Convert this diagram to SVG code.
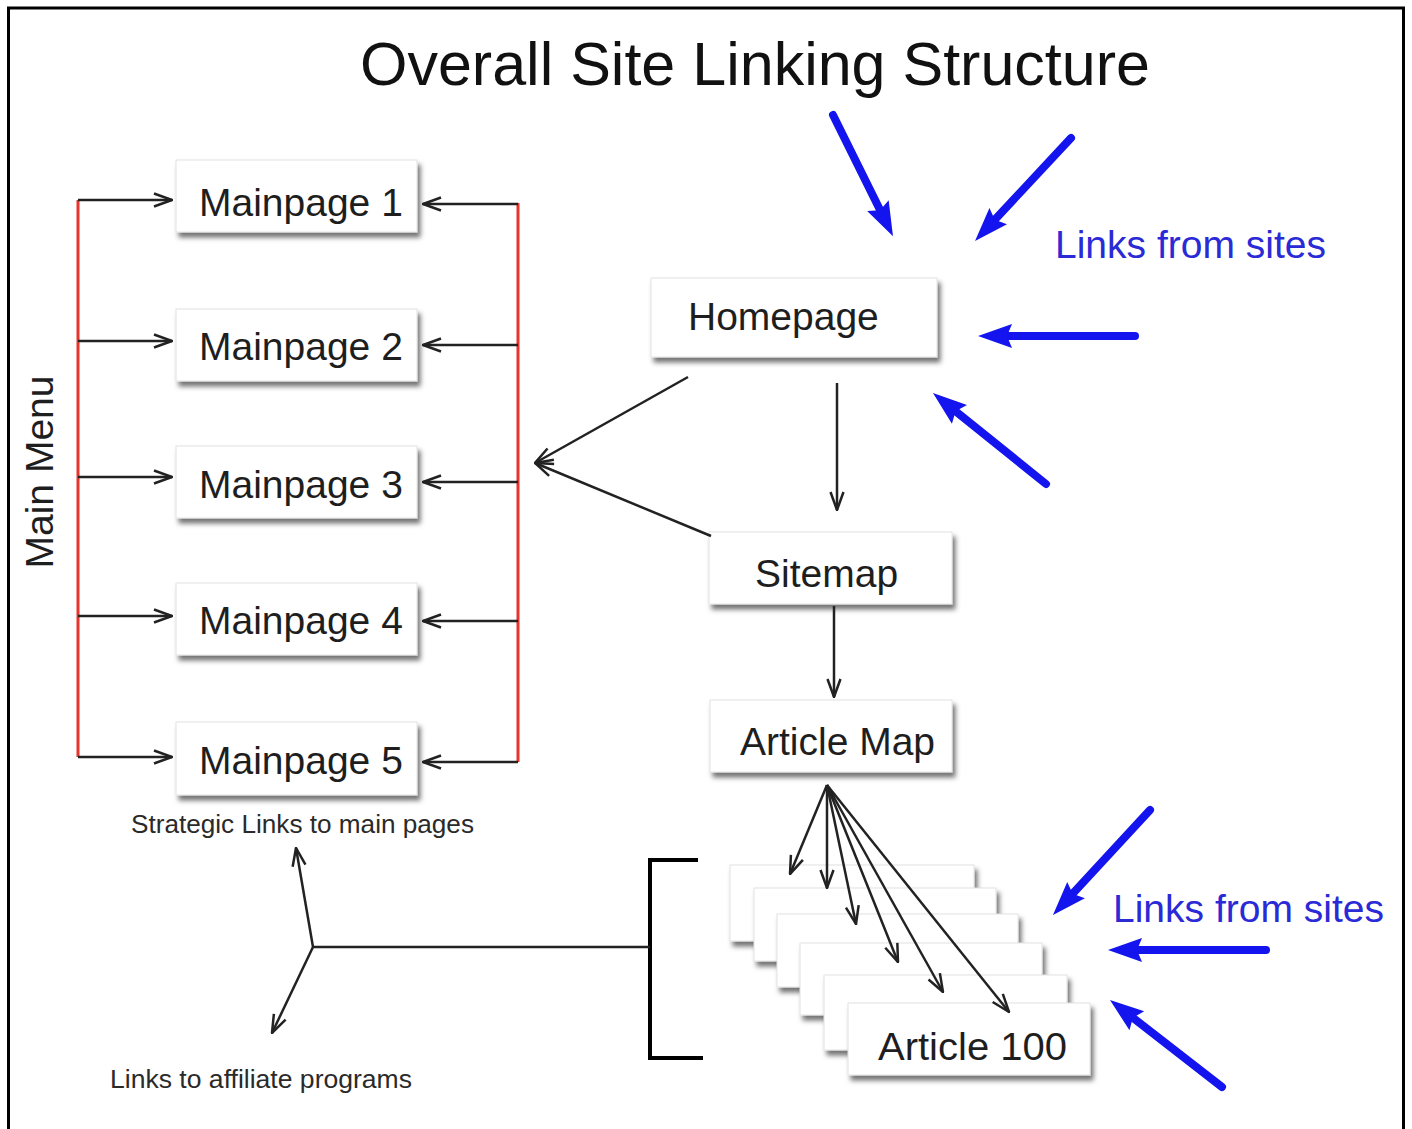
<svg xmlns="http://www.w3.org/2000/svg" width="1412" height="1129" viewBox="0 0 1412 1129">
<style>
.box{fill:#fff;stroke:#e2e2e2;stroke-width:1;filter:url(#sh)}
.lbl{font-family:"Liberation Sans",Arial,sans-serif;font-size:39px;fill:#1e1e1e}
.small{font-family:"Liberation Sans",Arial,sans-serif;font-size:25px;fill:#2a2a2a}
.blk{stroke:#222;stroke-width:2.5;fill:none;marker-end:url(#open)}
.red{stroke:#e8342c;stroke-width:3;fill:none}
.blue{stroke:#1414ee;stroke-width:8;stroke-linecap:round;fill:none;marker-end:url(#bh)}
.btxt{font-family:"Liberation Sans",Arial,sans-serif;font-size:39px;fill:#2a2ad6}
</style>
<defs>
<filter id="sh" x="-10%" y="-15%" width="125%" height="150%">
<feDropShadow dx="3" dy="5" stdDeviation="2.5" flood-color="#000" flood-opacity="0.55"/>
</filter>
<marker id="open" viewBox="0 0 20 16" refX="19" refY="8" markerWidth="20" markerHeight="16" markerUnits="userSpaceOnUse" orient="auto">
<path d="M1,1.5 L19,8 L1,14.5" fill="none" stroke="#222" stroke-width="2.5"/>
</marker>
<marker id="bh" viewBox="0 0 34 26" refX="16" refY="13" markerWidth="34" markerHeight="26" markerUnits="userSpaceOnUse" orient="auto">
<path d="M0,1 L34,13 L0,25 L5,13 Z" fill="#1414ee"/>
</marker>
</defs>
<rect x="0" y="0" width="1412" height="1129" fill="#fff"/>
<rect x="8.5" y="8" width="1395" height="1140" fill="none" stroke="#000" stroke-width="3"/>
<text x="360" y="85" font-family="Liberation Sans, Arial, sans-serif" font-size="61" fill="#111">Overall Site Linking Structure</text>

<g id="mainpage1"><rect class="box" x="176" y="160" width="241" height="72"/><text class="lbl" x="199" y="216">Mainpage 1</text></g>
<g id="mainpage2"><rect class="box" x="176" y="309" width="241" height="72"/><text class="lbl" x="199" y="360">Mainpage 2</text></g>
<g id="mainpage3"><rect class="box" x="176" y="446" width="241" height="72"/><text class="lbl" x="199" y="498">Mainpage 3</text></g>
<g id="mainpage4"><rect class="box" x="176" y="583" width="241" height="72"/><text class="lbl" x="199" y="634">Mainpage 4</text></g>
<g id="mainpage5"><rect class="box" x="176" y="722" width="241" height="73"/><text class="lbl" x="199" y="774">Mainpage 5</text></g>

<g id="mainmenu"><text class="lbl" transform="translate(53,472) rotate(-90)" text-anchor="middle" font-size="38">Main Menu</text></g>

<g id="homepage"><rect class="box" x="651" y="278" width="286" height="79"/><text class="lbl" x="688" y="330">Homepage</text></g>
<g id="sitemap"><rect class="box" x="709" y="532" width="243" height="72"/><text class="lbl" x="755" y="587">Sitemap</text></g>
<g id="articlemap"><rect class="box" x="710" y="700" width="242" height="72"/><text class="lbl" x="740" y="755">Article Map</text></g>

<g id="articles">
<rect class="box" x="730" y="865" width="244" height="76"/>
<rect class="box" x="754" y="888" width="242" height="73"/>
<rect class="box" x="777" y="914" width="241" height="73"/>
<rect class="box" x="800" y="943" width="242" height="72"/>
<rect class="box" x="824" y="975" width="243" height="75"/>
<rect class="box" x="848" y="1003" width="242" height="72"/>
<text class="lbl" x="878" y="1060" font-size="36" textLength="189" lengthAdjust="spacingAndGlyphs">Article 100</text>
</g>

<g id="labels">
<text class="btxt" x="1055" y="258">Links from sites</text>
<text class="btxt" x="1113" y="922">Links from sites</text>
<text class="small" x="131" y="833" textLength="343" lengthAdjust="spacingAndGlyphs">Strategic Links to main pages</text>
<text class="small" x="110" y="1088" textLength="302" lengthAdjust="spacingAndGlyphs">Links to affiliate programs</text>
</g>

<g id="connectors">
<polyline class="red" points="78,200 78,757"/>
<polyline class="red" points="518,203 518,762"/>
<line class="blk" x1="78" y1="200" x2="172" y2="200"/>
<line class="blk" x1="78" y1="341" x2="172" y2="341"/>
<line class="blk" x1="78" y1="477" x2="172" y2="477"/>
<line class="blk" x1="78" y1="616" x2="172" y2="616"/>
<line class="blk" x1="78" y1="757" x2="172" y2="757"/>
<line class="blk" x1="518" y1="204" x2="423" y2="204"/>
<line class="blk" x1="518" y1="345" x2="423" y2="345"/>
<line class="blk" x1="518" y1="482" x2="423" y2="482"/>
<line class="blk" x1="518" y1="621" x2="423" y2="621"/>
<line class="blk" x1="518" y1="762" x2="423" y2="762"/>
<line class="blk" x1="688" y1="377" x2="535" y2="463"/>
<line class="blk" x1="711" y1="536" x2="535" y2="463"/>
<line class="blk" x1="837" y1="383" x2="837" y2="510"/>
<line class="blk" x1="834" y1="606" x2="834" y2="697"/>
<line class="blk" x1="827" y1="785" x2="790" y2="874"/>
<line class="blk" x1="827" y1="785" x2="827" y2="888"/>
<line class="blk" x1="827" y1="785" x2="856" y2="924"/>
<line class="blk" x1="827" y1="785" x2="898" y2="962"/>
<line class="blk" x1="827" y1="785" x2="943" y2="992"/>
<line class="blk" x1="827" y1="785" x2="1009" y2="1012"/>
<polyline points="698,860 650,860 650,1058 703,1058" fill="none" stroke="#000" stroke-width="4"/>
<line x1="650" y1="947" x2="313" y2="947" stroke="#222" stroke-width="2.5"/>
<line class="blk" x1="313" y1="947" x2="296" y2="848"/>
<line class="blk" x1="313" y1="947" x2="272" y2="1033"/>
<line class="blue" x1="833" y1="115" x2="885" y2="220"/>
<line class="blue" x1="1071" y1="138" x2="987.3" y2="227.8"/>
<line class="blue" x1="1135" y1="336" x2="996" y2="336"/>
<line class="blue" x1="1046" y1="484" x2="947" y2="404.3"/>
<line class="blue" x1="1150" y1="810" x2="1065.2" y2="901.8"/>
<line class="blue" x1="1266" y1="950" x2="1126" y2="950"/>
<line class="blue" x1="1222" y1="1087" x2="1124.2" y2="1011"/>
</g>
</svg>
